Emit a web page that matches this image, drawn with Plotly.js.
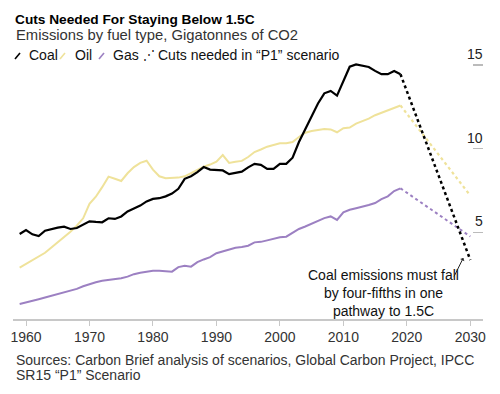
<!DOCTYPE html>
<html><head><meta charset="utf-8">
<script src="https://cdn.plot.ly/plotly-3.0.1.min.js"></script>
<style>html,body{margin:0;padding:0;background:#fff}#chart{width:500px;height:394px}</style>
</head><body><div id="chart"></div>
<script>
const years = [1959,1960,1961,1962,1963,1964,1965,1966,1967,1968,1969,1970,1971,1972,1973,1974,1975,1976,1977,1978,1979,1980,1981,1982,1983,1984,1985,1986,1987,1988,1989,1990,1991,1992,1993,1994,1995,1996,1997,1998,1999,2000,2001,2002,2003,2004,2005,2006,2007,2008,2009,2010,2011,2012,2013,2014,2015,2016,2017,2018,2019];
const coal = [4.90,5.14,4.88,4.78,5.10,5.20,5.28,5.34,5.20,5.26,5.44,5.66,5.62,5.60,5.84,5.80,5.95,6.25,6.42,6.60,6.85,7.00,7.04,7.15,7.32,7.60,8.20,8.35,8.60,8.90,8.75,8.72,8.70,8.48,8.55,8.63,8.88,9.09,9.03,8.79,8.79,9.09,9.09,9.46,10.40,11.20,12.00,12.70,13.31,13.45,13.17,14.00,14.90,15.04,14.95,14.88,14.65,14.45,14.45,14.64,14.45];
const oil = [2.89,3.10,3.35,3.55,3.78,4.10,4.40,4.72,5.04,5.40,5.84,6.70,7.13,7.70,8.33,8.20,8.07,8.53,8.90,9.15,9.28,8.75,8.35,8.23,8.23,8.27,8.35,8.53,8.70,8.92,9.05,9.22,9.62,9.15,9.22,9.27,9.50,9.80,9.95,10.12,10.22,10.32,10.32,10.40,10.70,10.95,11.06,11.12,11.18,11.15,10.98,11.22,11.26,11.50,11.65,11.80,12.00,12.15,12.30,12.45,12.58];
const gas = [0.72,0.80,0.92,1.00,1.10,1.20,1.30,1.40,1.50,1.62,1.78,1.92,2.02,2.10,2.15,2.19,2.25,2.35,2.50,2.58,2.65,2.70,2.71,2.66,2.65,2.92,3.00,2.95,3.22,3.38,3.52,3.75,3.85,3.99,4.08,4.12,4.20,4.40,4.43,4.52,4.62,4.70,4.74,4.95,5.20,5.35,5.52,5.70,5.85,5.95,5.74,6.20,6.35,6.44,6.52,6.63,6.75,6.98,7.15,7.47,7.63];
const scenarioYears = [2019, 2030];
const coalCut = [14.45, 3.35];
const oilCut = [12.58, 7.2];
const gasCut = [7.63, 4.75];
const xTicks = [1960,1970,1980,1990,2000,2010,2020,2030];
const yTicks = [5,10,15];
const yTickLabels = ['5','10','15'];
const legendNames = ['Coal','Oil','Gas','Cuts needed in “P1” scenario'];

const C_COAL = '#000000', C_OIL = '#efe29a', C_GAS = '#9c80c2';
const FONT = 'Liberation Sans, Arial, sans-serif';

const traces = [
  {x: years, y: oil, mode:'lines', line:{color:C_OIL, width:2}},
  {x: scenarioYears, y: oilCut, mode:'lines', line:{color:C_OIL, width:2.2, dash:'dot'}},
  {x: years, y: gas, mode:'lines', line:{color:C_GAS, width:2}},
  {x: scenarioYears, y: gasCut, mode:'lines', line:{color:C_GAS, width:2, dash:'dot'}},
  {x: years, y: coal, mode:'lines', line:{color:C_COAL, width:2.2}},
  {x: scenarioYears, y: coalCut, mode:'lines', line:{color:C_COAL, width:2.5, dash:'dot'}}
];

// pixel helpers for layout placement (plot area 13..483 x, 60..319 y)
const px = p => (p - 13) / 470;
const py = p => (319 - p) / 259;

const annotations = [
  {xref:'paper', yref:'paper', x:px(14), y:py(35), xanchor:'left', yanchor:'middle', showarrow:false,
   text:'Emissions by fuel type, Gigatonnes of CO2', font:{family:FONT, size:14.8, color:'#333'}},
  {xref:'paper', yref:'paper', x:px(27), y:py(55), xanchor:'left', yanchor:'middle', showarrow:false,
   text:legendNames[0], font:{family:FONT, size:14, color:'#111'}},
  {xref:'paper', yref:'paper', x:px(73), y:py(55), xanchor:'left', yanchor:'middle', showarrow:false,
   text:legendNames[1], font:{family:FONT, size:14, color:'#111'}},
  {xref:'paper', yref:'paper', x:px(111), y:py(55), xanchor:'left', yanchor:'middle', showarrow:false,
   text:legendNames[2], font:{family:FONT, size:14, color:'#111'}},
  {xref:'paper', yref:'paper', x:px(141), y:py(55), xanchor:'left', yanchor:'middle', showarrow:false,
   text:'⋰', font:{family:FONT, size:12, color:'#111'}},
  {xref:'paper', yref:'paper', x:px(156), y:py(55), xanchor:'left', yanchor:'middle', showarrow:false,
   text:legendNames[3], font:{family:FONT, size:14, color:'#111'}},
  {xref:'paper', yref:'paper', x:px(14), y:py(360), xanchor:'left', yanchor:'middle', showarrow:false,
   text:'Sources: Carbon Brief analysis of scenarios, Global Carbon Project, IPCC', font:{family:FONT, size:14, color:'#333'}},
  {xref:'paper', yref:'paper', x:px(14), y:py(375), xanchor:'left', yanchor:'middle', showarrow:false,
   text:'SR15 “P1” Scenario', font:{family:FONT, size:14, color:'#333'}},
  {x:2016.3, y:1.37, xref:'x', yref:'y', showarrow:false, xanchor:'center', yanchor:'middle', align:'center',
   text:'Coal emissions must fall<br>by four-fifths in one<br>pathway to 1.5C', font:{family:FONT, size:14, color:'#111'}},
  {x:2028.9, y:3.47, xref:'x', yref:'y', ax:-10, ay:20, showarrow:true, arrowhead:1, arrowsize:0.8, arrowwidth:1, arrowcolor:'#222', text:''}
];
yTicks.forEach((v,i)=>annotations.push({xref:'paper', yref:'y', x:1.004, y:v, xanchor:'right', yanchor:'bottom', yshift:1, showarrow:false,
  text:yTickLabels[i], font:{family:FONT, size:14, color:'#222'}}));

const slash = (x0, color) => ({type:'line', xref:'paper', yref:'paper', x0:px(x0), y0:py(59), x1:px(x0+5), y1:py(53),
  line:{color:color, width:1.6}});
const shapes = [slash(15, C_COAL), slash(60, C_OIL), slash(99, C_GAS)];

const layout = {
  width:500, height:394,
  margin:{l:13, r:17, t:60, b:75},
  paper_bgcolor:'#fff', plot_bgcolor:'#fff',
  showlegend:false,
  font:{family:FONT, size:13, color:'#333'},
  title:{text:'<b>Cuts Needed For Staying Below 1.5C</b>', xref:'container', yref:'container', x:0.03, xanchor:'left', y:0.952, yanchor:'middle',
    font:{family:FONT, size:13.7, color:'#000'}},
  xaxis:{range:[1957.95, 2032], tickvals:xTicks, ticktext:xTicks.map(String), showgrid:false, zeroline:false,
    showline:true, linecolor:'#c8c8c8', linewidth:1.5, ticks:'outside', ticklen:5, tickcolor:'#c8c8c8', tickwidth:1,
    tickfont:{family:FONT, size:14, color:'#333'}},
  yaxis:{range:[-0.18, 15.3], side:'right', tickvals:yTicks, showticklabels:false, ticks:'inside', ticklen:10, tickcolor:'#bbb', tickwidth:1.5,
    showgrid:false, zeroline:false, showline:false},
  annotations:annotations,
  shapes:shapes
};
Plotly.newPlot('chart', traces, layout, {displayModeBar:false, staticPlot:true});
</script></body></html>
